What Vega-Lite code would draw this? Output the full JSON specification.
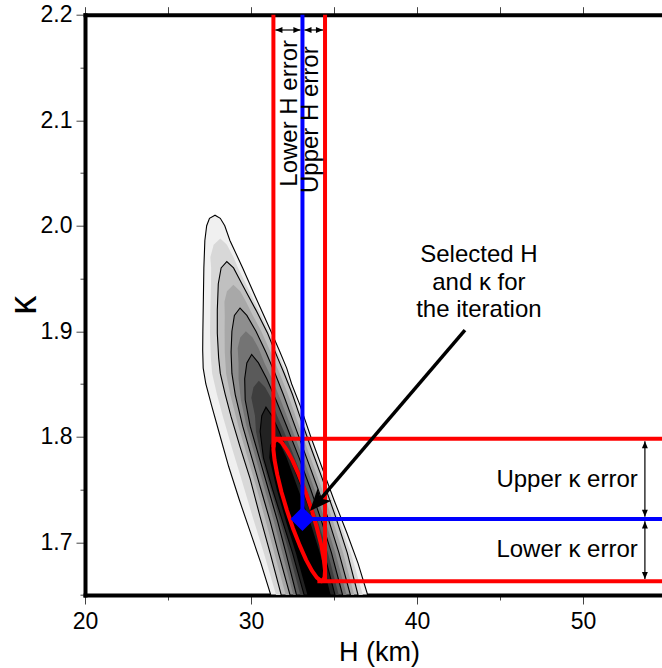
{
  "$schema": "https://vega.github.io/schema/vega-lite/v6.json",
  "width": 577,
  "height": 580.3,
  "autosize": {"type": "none"},
  "padding": {"left": 85, "top": 14.7, "right": 0, "bottom": 73},
  "background": "white",
  "config": {
    "view": {"stroke": null},
    "font": "Liberation Sans",
    "axis": {
      "grid": false,
      "domainColor": "black",
      "domainWidth": 4,
      "domainCap": "square",
      "tickColor": "#444444",
      "tickWidth": 1,
      "labelColor": "black",
      "labelFont": "Liberation Sans",
      "labelFontSize": 23,
      "titleFont": "Liberation Sans",
      "titleColor": "black",
      "titleFontWeight": "normal",
      "zindex": 1
    }
  },
  "datasets": {
    "dens": [
      {"lev": "c1", "k": 2.010, "lo": 27.83, "hi": 27.83},
      {"lev": "c1", "k": 2.007, "lo": 27.50, "hi": 28.15},
      {"lev": "c1", "k": 2.000, "lo": 27.33, "hi": 28.42},
      {"lev": "c1", "k": 1.986, "lo": 27.22, "hi": 28.73},
      {"lev": "c1", "k": 1.960, "lo": 27.16, "hi": 29.50},
      {"lev": "c1", "k": 1.930, "lo": 27.13, "hi": 30.34},
      {"lev": "c1", "k": 1.900, "lo": 27.10, "hi": 31.20},
      {"lev": "c1", "k": 1.882, "lo": 27.09, "hi": 31.70},
      {"lev": "c1", "k": 1.865, "lo": 27.12, "hi": 32.15},
      {"lev": "c1", "k": 1.850, "lo": 27.28, "hi": 32.45},
      {"lev": "c1", "k": 1.830, "lo": 27.62, "hi": 32.95},
      {"lev": "c1", "k": 1.800, "lo": 28.15, "hi": 33.60},
      {"lev": "c1", "k": 1.772, "lo": 28.65, "hi": 34.25},
      {"lev": "c1", "k": 1.740, "lo": 29.30, "hi": 35.00},
      {"lev": "c1", "k": 1.710, "lo": 29.95, "hi": 35.75},
      {"lev": "c1", "k": 1.680, "lo": 30.60, "hi": 36.45},
      {"lev": "c1", "k": 1.650, "lo": 31.19, "hi": 37.03},
      {"lev": "m1", "k": 1.988, "lo": 28.15, "hi": 28.15},
      {"lev": "m1", "k": 1.982, "lo": 27.75, "hi": 28.55},
      {"lev": "m1", "k": 1.970, "lo": 27.55, "hi": 28.95},
      {"lev": "m1", "k": 1.960, "lo": 27.60, "hi": 29.22},
      {"lev": "m1", "k": 1.945, "lo": 27.59, "hi": 29.69},
      {"lev": "m1", "k": 1.920, "lo": 27.55, "hi": 30.47},
      {"lev": "m1", "k": 1.898, "lo": 27.53, "hi": 31.13},
      {"lev": "m1", "k": 1.875, "lo": 27.58, "hi": 31.75},
      {"lev": "m1", "k": 1.860, "lo": 27.66, "hi": 32.13},
      {"lev": "m1", "k": 1.840, "lo": 27.95, "hi": 32.60},
      {"lev": "m1", "k": 1.819, "lo": 28.31, "hi": 33.07},
      {"lev": "m1", "k": 1.790, "lo": 28.84, "hi": 33.72},
      {"lev": "m1", "k": 1.760, "lo": 29.42, "hi": 34.42},
      {"lev": "m1", "k": 1.724, "lo": 30.10, "hi": 35.25},
      {"lev": "m1", "k": 1.690, "lo": 30.77, "hi": 36.01},
      {"lev": "m1", "k": 1.650, "lo": 31.51, "hi": 36.74},
      {"lev": "c2", "k": 1.966, "lo": 28.54, "hi": 28.54},
      {"lev": "c2", "k": 1.960, "lo": 28.20, "hi": 28.95},
      {"lev": "c2", "k": 1.945, "lo": 28.03, "hi": 29.45},
      {"lev": "c2", "k": 1.920, "lo": 27.97, "hi": 30.30},
      {"lev": "c2", "k": 1.898, "lo": 27.97, "hi": 31.00},
      {"lev": "c2", "k": 1.875, "lo": 28.05, "hi": 31.60},
      {"lev": "c2", "k": 1.860, "lo": 28.15, "hi": 32.00},
      {"lev": "c2", "k": 1.840, "lo": 28.45, "hi": 32.50},
      {"lev": "c2", "k": 1.819, "lo": 28.80, "hi": 32.95},
      {"lev": "c2", "k": 1.790, "lo": 29.35, "hi": 33.60},
      {"lev": "c2", "k": 1.760, "lo": 29.95, "hi": 34.30},
      {"lev": "c2", "k": 1.724, "lo": 30.55, "hi": 35.10},
      {"lev": "c2", "k": 1.690, "lo": 31.15, "hi": 35.80},
      {"lev": "c2", "k": 1.650, "lo": 31.82, "hi": 36.45},
      {"lev": "m2", "k": 1.944, "lo": 28.94, "hi": 28.94},
      {"lev": "m2", "k": 1.938, "lo": 28.55, "hi": 29.35},
      {"lev": "m2", "k": 1.928, "lo": 28.40, "hi": 29.70},
      {"lev": "m2", "k": 1.915, "lo": 28.42, "hi": 30.11},
      {"lev": "m2", "k": 1.900, "lo": 28.41, "hi": 30.62},
      {"lev": "m2", "k": 1.880, "lo": 28.42, "hi": 31.19},
      {"lev": "m2", "k": 1.860, "lo": 28.50, "hi": 31.73},
      {"lev": "m2", "k": 1.840, "lo": 28.75, "hi": 32.23},
      {"lev": "m2", "k": 1.810, "lo": 29.24, "hi": 32.90},
      {"lev": "m2", "k": 1.780, "lo": 29.80, "hi": 33.59},
      {"lev": "m2", "k": 1.750, "lo": 30.36, "hi": 34.29},
      {"lev": "m2", "k": 1.720, "lo": 30.89, "hi": 34.94},
      {"lev": "m2", "k": 1.690, "lo": 31.40, "hi": 35.55},
      {"lev": "m2", "k": 1.650, "lo": 32.09, "hi": 36.22},
      {"lev": "c3", "k": 1.922, "lo": 29.34, "hi": 29.34},
      {"lev": "c3", "k": 1.915, "lo": 29.00, "hi": 29.75},
      {"lev": "c3", "k": 1.900, "lo": 28.85, "hi": 30.30},
      {"lev": "c3", "k": 1.880, "lo": 28.80, "hi": 30.90},
      {"lev": "c3", "k": 1.860, "lo": 28.85, "hi": 31.45},
      {"lev": "c3", "k": 1.840, "lo": 29.05, "hi": 31.95},
      {"lev": "c3", "k": 1.810, "lo": 29.50, "hi": 32.65},
      {"lev": "c3", "k": 1.780, "lo": 30.05, "hi": 33.35},
      {"lev": "c3", "k": 1.750, "lo": 30.60, "hi": 34.05},
      {"lev": "c3", "k": 1.720, "lo": 31.15, "hi": 34.70},
      {"lev": "c3", "k": 1.690, "lo": 31.65, "hi": 35.30},
      {"lev": "c3", "k": 1.650, "lo": 32.35, "hi": 35.99},
      {"lev": "m3", "k": 1.900, "lo": 29.69, "hi": 29.69},
      {"lev": "m3", "k": 1.894, "lo": 29.35, "hi": 30.10},
      {"lev": "m3", "k": 1.884, "lo": 29.20, "hi": 30.45},
      {"lev": "m3", "k": 1.870, "lo": 29.25, "hi": 30.81},
      {"lev": "m3", "k": 1.855, "lo": 29.25, "hi": 31.27},
      {"lev": "m3", "k": 1.835, "lo": 29.39, "hi": 31.78},
      {"lev": "m3", "k": 1.810, "lo": 29.73, "hi": 32.40},
      {"lev": "m3", "k": 1.780, "lo": 30.28, "hi": 33.13},
      {"lev": "m3", "k": 1.750, "lo": 30.83, "hi": 33.83},
      {"lev": "m3", "k": 1.720, "lo": 31.38, "hi": 34.48},
      {"lev": "m3", "k": 1.690, "lo": 31.88, "hi": 35.08},
      {"lev": "m3", "k": 1.650, "lo": 32.55, "hi": 35.76},
      {"lev": "c4", "k": 1.878, "lo": 30.04, "hi": 30.04},
      {"lev": "c4", "k": 1.870, "lo": 29.75, "hi": 30.45},
      {"lev": "c4", "k": 1.855, "lo": 29.62, "hi": 30.95},
      {"lev": "c4", "k": 1.835, "lo": 29.65, "hi": 31.50},
      {"lev": "c4", "k": 1.810, "lo": 29.95, "hi": 32.15},
      {"lev": "c4", "k": 1.780, "lo": 30.50, "hi": 32.90},
      {"lev": "c4", "k": 1.750, "lo": 31.05, "hi": 33.60},
      {"lev": "c4", "k": 1.720, "lo": 31.60, "hi": 34.25},
      {"lev": "c4", "k": 1.690, "lo": 32.10, "hi": 34.85},
      {"lev": "c4", "k": 1.650, "lo": 32.74, "hi": 35.52},
      {"lev": "m4", "k": 1.853, "lo": 30.47, "hi": 30.47},
      {"lev": "m4", "k": 1.847, "lo": 30.15, "hi": 30.85},
      {"lev": "m4", "k": 1.837, "lo": 30.02, "hi": 31.20},
      {"lev": "m4", "k": 1.820, "lo": 30.24, "hi": 31.57},
      {"lev": "m4", "k": 1.805, "lo": 30.30, "hi": 31.99},
      {"lev": "m4", "k": 1.780, "lo": 30.63, "hi": 32.63},
      {"lev": "m4", "k": 1.750, "lo": 31.18, "hi": 33.35},
      {"lev": "m4", "k": 1.720, "lo": 31.75, "hi": 34.03},
      {"lev": "m4", "k": 1.690, "lo": 32.30, "hi": 34.63},
      {"lev": "m4", "k": 1.650, "lo": 32.97, "hi": 35.29},
      {"lev": "c5", "k": 1.828, "lo": 30.90, "hi": 30.90},
      {"lev": "c5", "k": 1.820, "lo": 30.65, "hi": 31.25},
      {"lev": "c5", "k": 1.805, "lo": 30.55, "hi": 31.70},
      {"lev": "c5", "k": 1.780, "lo": 30.75, "hi": 32.35},
      {"lev": "c5", "k": 1.750, "lo": 31.30, "hi": 33.10},
      {"lev": "c5", "k": 1.720, "lo": 31.90, "hi": 33.80},
      {"lev": "c5", "k": 1.690, "lo": 32.50, "hi": 34.40},
      {"lev": "c5", "k": 1.650, "lo": 33.20, "hi": 35.06},
      {"lev": "m5", "k": 1.800, "lo": 31.45, "hi": 31.45},
      {"lev": "m5", "k": 1.792, "lo": 31.15, "hi": 31.80},
      {"lev": "m5", "k": 1.780, "lo": 31.10, "hi": 32.15},
      {"lev": "m5", "k": 1.750, "lo": 31.55, "hi": 32.85},
      {"lev": "m5", "k": 1.720, "lo": 32.10, "hi": 33.55},
      {"lev": "m5", "k": 1.690, "lo": 32.70, "hi": 34.15},
      {"lev": "m5", "k": 1.650, "lo": 33.40, "hi": 34.80}
    ],
    "ellipse": [
      {"k": 1.798, "lo": 31.54, "hi": 31.55},
      {"k": 1.7946, "lo": 31.38, "hi": 31.85},
      {"k": 1.7879, "lo": 31.35, "hi": 32.14},
      {"k": 1.7778, "lo": 31.42, "hi": 32.49},
      {"k": 1.7643, "lo": 31.58, "hi": 32.87},
      {"k": 1.7474, "lo": 31.84, "hi": 33.29},
      {"k": 1.7305, "lo": 32.16, "hi": 33.66},
      {"k": 1.7136, "lo": 32.52, "hi": 33.97},
      {"k": 1.6968, "lo": 32.94, "hi": 34.24},
      {"k": 1.6833, "lo": 33.32, "hi": 34.39},
      {"k": 1.6731, "lo": 33.67, "hi": 34.46},
      {"k": 1.6664, "lo": 33.97, "hi": 34.43},
      {"k": 1.663, "lo": 34.26, "hi": 34.27}
    ],
    "lines": [
      {"kind": "bound", "x": 31.35, "x2": 31.35, "y": 1.79, "y2": 2.2},
      {"kind": "bound", "x": 34.46, "x2": 34.46, "y": 1.663, "y2": 2.2},
      {"kind": "bound", "x": 31.35, "x2": 54.76, "y": 1.798, "y2": 1.798},
      {"kind": "bound", "x": 34.0, "x2": 54.76, "y": 1.663, "y2": 1.663},
      {"kind": "selected", "x": 33.1, "x2": 33.1, "y": 1.722, "y2": 2.2},
      {"kind": "selected", "x": 33.1, "x2": 54.76, "y": 1.722, "y2": 1.722},
      {"kind": "pointer", "x": 42.89, "x2": 34.03, "y": 1.9011, "y2": 1.7381},
      {"kind": "span", "x": 31.47, "x2": 32.98, "y": 2.1855, "y2": 2.1855},
      {"kind": "span", "x": 33.22, "x2": 34.34, "y": 2.1855, "y2": 2.1855},
      {"kind": "span", "x": 53.73, "x2": 53.73, "y": 1.7958, "y2": 1.7242},
      {"kind": "span", "x": 53.73, "x2": 53.73, "y": 1.7198, "y2": 1.6652}
    ],
    "heads": [
      {"x": 31.47, "y": 2.1855, "a": 180},
      {"x": 32.98, "y": 2.1855, "a": 0},
      {"x": 33.22, "y": 2.1855, "a": 180},
      {"x": 34.34, "y": 2.1855, "a": 0},
      {"x": 53.73, "y": 1.7958, "a": 270},
      {"x": 53.73, "y": 1.7242, "a": 90},
      {"x": 53.73, "y": 1.7198, "a": 270},
      {"x": 53.73, "y": 1.6652, "a": 90}
    ],
    "labels": [
      {"kind": "note", "x": 43.73, "y": 1.9659, "t": "Selected H"},
      {"kind": "note", "x": 43.73, "y": 1.9391, "t": "and κ for"},
      {"kind": "note", "x": 43.73, "y": 1.9132, "t": "the iteration"},
      {"kind": "kerr", "x": 53.3, "y": 1.7526, "t": "Upper κ error"},
      {"kind": "kerr", "x": 53.3, "y": 1.6863, "t": "Lower κ error"},
      {"kind": "herr", "x": 32.75, "y": 2.037, "t": "Lower H error"},
      {"kind": "herr", "x": 34.04, "y": 2.031, "t": "Upper H error"}
    ]
  },
  "layer": [
    {
      "data": {"name": "dens"},
      "encoding": {
        "y": {"field": "k", "type": "quantitative", "scale": {"domain": [1.65, 2.2], "nice": false, "zero": false}, "axis": null},
        "x": {"field": "lo", "type": "quantitative", "scale": {"domain": [20, 54.76], "nice": false, "zero": false}, "axis": null},
        "x2": {"field": "hi"}
      },
      "layer": [
        {"transform": [{"filter": "datum.lev == 'c1'"}], "mark": {"type": "area", "orient": "horizontal", "fill": "#f0f0f0", "stroke": "black", "strokeWidth": 1.1}},
        {"transform": [{"filter": "datum.lev == 'm1'"}], "mark": {"type": "area", "orient": "horizontal", "fill": "#d8d8d8", "strokeWidth": 0}},
        {"transform": [{"filter": "datum.lev == 'c2'"}], "mark": {"type": "area", "orient": "horizontal", "fill": "#c0c0c0", "stroke": "black", "strokeWidth": 1.1}},
        {"transform": [{"filter": "datum.lev == 'm2'"}], "mark": {"type": "area", "orient": "horizontal", "fill": "#a8a8a8", "strokeWidth": 0}},
        {"transform": [{"filter": "datum.lev == 'c3'"}], "mark": {"type": "area", "orient": "horizontal", "fill": "#8e8e8e", "stroke": "black", "strokeWidth": 1.1}},
        {"transform": [{"filter": "datum.lev == 'm3'"}], "mark": {"type": "area", "orient": "horizontal", "fill": "#747474", "strokeWidth": 0}},
        {"transform": [{"filter": "datum.lev == 'c4'"}], "mark": {"type": "area", "orient": "horizontal", "fill": "#5a5a5a", "stroke": "black", "strokeWidth": 1.1}},
        {"transform": [{"filter": "datum.lev == 'm4'"}], "mark": {"type": "area", "orient": "horizontal", "fill": "#3e3e3e", "strokeWidth": 0}},
        {"transform": [{"filter": "datum.lev == 'c5'"}], "mark": {"type": "area", "orient": "horizontal", "fill": "#222222", "stroke": "black", "strokeWidth": 1.1}},
        {"transform": [{"filter": "datum.lev == 'm5'"}], "mark": {"type": "area", "orient": "horizontal", "fill": "#000000", "strokeWidth": 0}}
      ]
    },
    {
      "data": {"name": "ellipse"},
      "mark": {"type": "area", "orient": "horizontal", "fill": null, "fillOpacity": 0, "stroke": "#ff0000", "strokeWidth": 4, "strokeJoin": "round"},
      "encoding": {
        "y": {"field": "k", "type": "quantitative", "scale": {"domain": [1.65, 2.2], "nice": false, "zero": false},
          "axis": {"orient": "left", "values": [1.65, 1.7, 1.75, 1.8, 1.85, 1.9, 1.95, 2.0, 2.05, 2.1, 2.15, 2.2],
            "labelExpr": "abs(datum.value*10 - round(datum.value*10)) < 0.001 ? format(datum.value, '.1f') : ''",
            "tickSize": {"condition": {"test": "abs(datum.value*10 - round(datum.value*10)) < 0.001", "value": 9}, "value": 5},
            "labelPadding": 4, "labelFlush": false, "labelOverlap": false,
            "title": "κ", "titleFontSize": 38, "titleAngle": 270, "titleX": -50, "titleY": 290, "titleAlign": "center", "titleBaseline": "alphabetic", "titleAnchor": null}},
        "x": {"field": "lo", "type": "quantitative", "scale": {"domain": [20, 54.76], "nice": false, "zero": false},
          "axis": {"orient": "bottom", "values": [20, 25, 30, 35, 40, 45, 50],
            "labelExpr": "datum.value % 10 == 0 ? datum.label : ''",
            "tickSize": {"condition": {"test": "datum.value % 10 == 0", "value": 9}, "value": 5},
            "labelPadding": 6, "labelFlush": false, "labelOverlap": false,
            "title": "H (km)", "titleFontSize": 27, "titleX": 294, "titleY": 65, "titleAlign": "center", "titleBaseline": "alphabetic", "titleAnchor": null}},
        "x2": {"field": "hi"}
      }
    },
    {
      "data": {"name": "lines"},
      "transform": [{"filter": "datum.kind == 'bound'"}],
      "mark": {"type": "rule", "color": "#ff0000", "strokeWidth": 4},
      "encoding": {
        "x": {"field": "x", "type": "quantitative", "scale": {"domain": [20, 54.76], "nice": false, "zero": false}, "axis": null},
        "x2": {"field": "x2"},
        "y": {"field": "y", "type": "quantitative", "scale": {"domain": [1.65, 2.2], "nice": false, "zero": false}, "axis": null},
        "y2": {"field": "y2"}
      }
    },
    {
      "data": {"name": "lines"},
      "transform": [{"filter": "datum.kind == 'selected'"}],
      "mark": {"type": "rule", "color": "#0000ff", "strokeWidth": 4},
      "encoding": {
        "x": {"field": "x", "type": "quantitative", "scale": {"domain": [20, 54.76], "nice": false, "zero": false},
          "axis": {"orient": "top", "values": [20, 25, 30, 35, 40, 45, 50], "labels": false, "title": null, "tickSize": 8}},
        "x2": {"field": "x2"},
        "y": {"field": "y", "type": "quantitative", "scale": {"domain": [1.65, 2.2], "nice": false, "zero": false}, "axis": null},
        "y2": {"field": "y2"}
      }
    },
    {
      "data": {"values": [{"x": 33.1, "y": 1.722}]},
      "mark": {"type": "point", "shape": "diamond", "size": 580, "filled": true, "color": "#0000ff", "opacity": 1},
      "encoding": {
        "x": {"field": "x", "type": "quantitative", "scale": {"domain": [20, 54.76], "nice": false, "zero": false}, "axis": null},
        "y": {"field": "y", "type": "quantitative", "scale": {"domain": [1.65, 2.2], "nice": false, "zero": false}, "axis": null}
      }
    },
    {
      "data": {"name": "lines"},
      "transform": [{"filter": "datum.kind == 'pointer'"}],
      "mark": {"type": "rule", "color": "black", "strokeWidth": 3.5},
      "encoding": {
        "x": {"field": "x", "type": "quantitative", "scale": {"domain": [20, 54.76], "nice": false, "zero": false}, "axis": null},
        "x2": {"field": "x2"},
        "y": {"field": "y", "type": "quantitative", "scale": {"domain": [1.65, 2.2], "nice": false, "zero": false}, "axis": null},
        "y2": {"field": "y2"}
      }
    },
    {
      "data": {"values": [{"x": 33.55, "y": 1.7296, "a": 221.5}]},
      "mark": {"type": "point", "shape": "M0,0 L0.42,1 L0,0.75 L-0.42,1 Z", "size": 1936, "filled": true, "color": "black", "opacity": 1},
      "encoding": {
        "x": {"field": "x", "type": "quantitative", "scale": {"domain": [20, 54.76], "nice": false, "zero": false}, "axis": null},
        "y": {"field": "y", "type": "quantitative", "scale": {"domain": [1.65, 2.2], "nice": false, "zero": false}, "axis": null},
        "angle": {"field": "a", "type": "quantitative", "scale": null}
      }
    },
    {
      "data": {"name": "lines"},
      "transform": [{"filter": "datum.kind == 'span'"}],
      "mark": {"type": "rule", "color": "black", "strokeWidth": 1.2},
      "encoding": {
        "x": {"field": "x", "type": "quantitative", "scale": {"domain": [20, 54.76], "nice": false, "zero": false}, "axis": null},
        "x2": {"field": "x2"},
        "y": {"field": "y", "type": "quantitative", "scale": {"domain": [1.65, 2.2], "nice": false, "zero": false}, "axis": null},
        "y2": {"field": "y2"}
      }
    },
    {
      "data": {"name": "heads"},
      "mark": {"type": "point", "shape": "M0,0 L-1,-0.42 L-1,0.42 Z", "size": 200, "filled": true, "color": "black", "opacity": 1},
      "encoding": {
        "x": {"field": "x", "type": "quantitative", "scale": {"domain": [20, 54.76], "nice": false, "zero": false}, "axis": null},
        "y": {"field": "y", "type": "quantitative", "scale": {"domain": [1.65, 2.2], "nice": false, "zero": false}, "axis": null},
        "angle": {"field": "a", "type": "quantitative", "scale": null}
      }
    },
    {
      "data": {"name": "labels"},
      "transform": [{"filter": "datum.kind == 'note'"}],
      "mark": {"type": "text", "align": "center", "baseline": "alphabetic", "fontSize": 24, "font": "Liberation Sans", "color": "black"},
      "encoding": {
        "x": {"field": "x", "type": "quantitative", "scale": {"domain": [20, 54.76], "nice": false, "zero": false}, "axis": null},
        "y": {"field": "y", "type": "quantitative", "scale": {"domain": [1.65, 2.2], "nice": false, "zero": false}, "axis": null},
        "text": {"field": "t"}
      }
    },
    {
      "data": {"name": "labels"},
      "transform": [{"filter": "datum.kind == 'kerr'"}],
      "mark": {"type": "text", "align": "right", "baseline": "alphabetic", "fontSize": 24, "font": "Liberation Sans", "color": "black"},
      "encoding": {
        "x": {"field": "x", "type": "quantitative", "scale": {"domain": [20, 54.76], "nice": false, "zero": false}, "axis": null},
        "y": {"field": "y", "type": "quantitative", "scale": {"domain": [1.65, 2.2], "nice": false, "zero": false}, "axis": null},
        "text": {"field": "t"}
      }
    },
    {
      "data": {"name": "labels"},
      "transform": [{"filter": "datum.kind == 'herr'"}],
      "mark": {"type": "text", "align": "left", "baseline": "alphabetic", "angle": 270, "fontSize": 24, "font": "Liberation Sans", "color": "black"},
      "encoding": {
        "x": {"field": "x", "type": "quantitative", "scale": {"domain": [20, 54.76], "nice": false, "zero": false}, "axis": null},
        "y": {"field": "y", "type": "quantitative", "scale": {"domain": [1.65, 2.2], "nice": false, "zero": false}, "axis": null},
        "text": {"field": "t"}
      }
    }
  ],
  "resolve": {"axis": {"x": "independent", "y": "independent"}}
}
